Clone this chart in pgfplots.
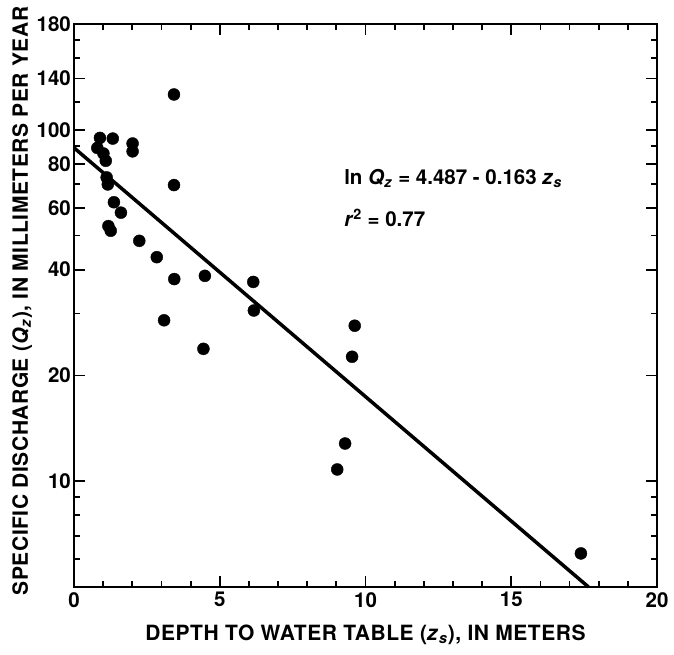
\documentclass[border=0pt]{standalone}
\usepackage{pgfplots}
\pgfplotsset{compat=1.18}
\usepackage{fontspec}
\setmainfont{TeX Gyre Heros}
\newfontfamily\lblfont{TeX Gyre Heros}[LetterSpace=2.5]

\begin{document}
\begin{tikzpicture}
\begin{axis}[
  at={(0pt,0pt)}, anchor=south west,
  scale only axis,
  width=583pt, height=563pt,
  xmin=0, xmax=20,
  ymode=log, ymin=5, ymax=200,
  xtick={0,5,10,15,20},
  xticklabels={0,5,10,15,20},
  minor xtick={1,2,3,4,6,7,8,9,11,12,13,14,16,17,18,19},
  ytick={10,20,40,60,80,100,140,200},
  yticklabels={10,20,40,60,80,100,140,180},
  minor ytick={6,7,8,9,30,50,70,90,120,160,180},
  tick align=inside,
  major tick length=11pt,
  minor tick length=6pt,
  every tick/.style={black, line width=1.8pt},
  axis line style={line width=1.6pt},
  tick label style={font=\bfseries\fontsize{20.5}{24}\selectfont},
  yticklabel style={inner sep=3pt},
  xticklabel style={inner sep=5pt},
  label style={font=\lblfont\bfseries\fontsize{21}{25}\selectfont},
  xlabel={DEPTH TO WATER TABLE (\textit{z}\textsubscript{\textit{s}}), IN METERS},
  ylabel={SPECIFIC DISCHARGE (\textit{Q}\textsubscript{\textit{z}}), IN MILLIMETERS PER YEAR},
  xlabel style={at={(axis description cs:0.5,-0.085)}, anchor=center},
  ylabel style={at={(axis description cs:-0.089,0.508)}, anchor=center},
  clip=false,
]
% observed sites
\addplot[only marks, mark=*, mark size=6pt, black] coordinates {
  (3.43,126) (0.89,94.8) (1.33,94.4) (0.80,88.8) (2.01,91.4) (2.01,86.8)
  (1.01,85.6) (1.09,81.6) (1.12,73.2) (1.16,69.9) (3.43,69.6) (1.37,62.2)
  (1.61,58.1) (1.18,53.2) (1.26,51.6) (2.24,48.3) (2.84,43.4) (3.44,37.6)
  (4.49,38.4) (6.15,36.9) (6.17,30.6) (3.09,28.7) (4.44,23.8) (9.63,27.7)
  (9.54,22.6) (9.30,12.8) (9.03,10.8) (17.39,6.23)
};
% regression line  ln Qz = 4.487 - 0.163 zs
\addplot[black, line width=3.5pt, line cap=butt] coordinates {(0,88.85) (17.65,5)};
\node[anchor=west, font=\bfseries\fontsize{20.5}{24}\selectfont] at (axis cs:9.15,72.9)
  {ln \textit{Q}\textsubscript{\textit{z}} = 4.487 - 0.163 \textit{z}\textsubscript{\textit{s}}};
\node[anchor=west, font=\bfseries\fontsize{20.5}{24}\selectfont] at (axis cs:9.15,56.1)
  {\textit{r}\textsuperscript{2} = 0.77};
\end{axis}
\pgfresetboundingbox
\path (-74pt,-68pt) rectangle (600pt,587pt);
\end{tikzpicture}
\end{document}
